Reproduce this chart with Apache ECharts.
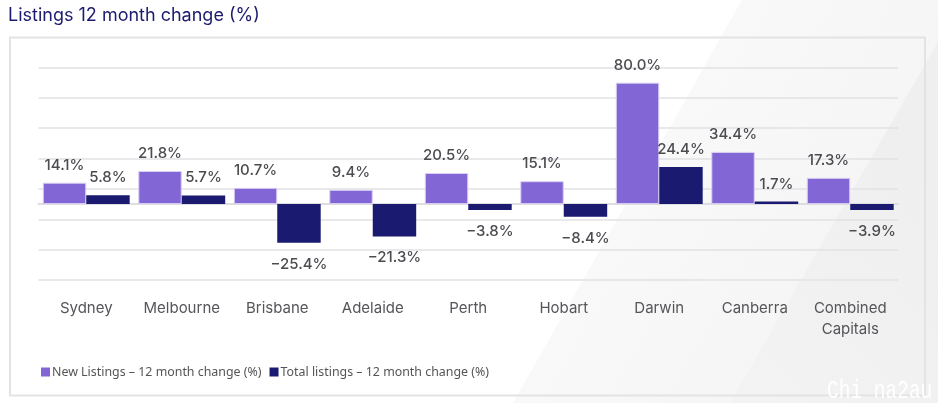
<!DOCTYPE html>
<html>
<head>
<meta charset="utf-8">
<style>
  html, body { margin: 0; padding: 0; background: #fff; }
  #chart { width: 938px; height: 403px; }
</style>
<script src="https://cdn.jsdelivr.net/npm/echarts@6/dist/echarts.min.js"></script>
</head>
<body>
<div id="chart"></div>
<script>
const categories = ['Sydney', 'Melbourne', 'Brisbane', 'Adelaide', 'Perth', 'Hobart', 'Darwin', 'Canberra', 'Combined\nCapitals'];
const newListings = [14.1, 21.8, 10.7, 9.4, 20.5, 15.1, 80.0, 34.4, 17.3];
const totalListings = [5.8, 5.7, -25.4, -21.3, -3.8, -8.4, 24.4, 1.7, -3.9];
const seriesNames = ['New Listings – 12 month change (%)', 'Total listings – 12 month change (%)'];

const labelFont = 'Inter, sans-serif';

function barLabel() {
    return {
        show: true,
        position: 'outside',
        distance: 10,
        fontFamily: labelFont,
        fontSize: 15,
        fontWeight: 500,
        color: '#4b4b50',
        formatter: function (p) {
            return p.value.toFixed(1).replace('-', '−') + '%';
        }
    };
}

// negative labels sit a little further from the bar
function barData(values) {
    return values.map(function (v) {
        return v < 0 ? { value: v, label: { distance: 14 } } : v;
    });
}

let myChart = echarts.init(document.getElementById('chart'));
let option = {
    animation: false,
    backgroundColor: '#fff',
    title: {
        text: 'Listings 12 month change (%)',
        left: 3,
        top: 2,
        textStyle: { fontFamily: labelFont, fontSize: 18, fontWeight: 400, color: '#1d1b6f' }
    },
    // shaded diagonal panels behind the plot, and the frame
    graphic: [
        {
            type: 'polygon', silent: true, z: -10,
            shape: { points: [[742, 0], [938, 0], [938, 403], [513, 403]] },
            style: { fill: { type: 'linear', x: 0, y: 0, x2: 1, y2: 0.6, colorStops: [{ offset: 0, color: '#fcfcfc' }, { offset: 1, color: '#f4f4f4' }] } }
        },
        {
            type: 'polygon', silent: true, z: -9,
            shape: { points: [[938, 42], [938, 403], [730, 403]] },
            style: { fill: { type: 'linear', x: 0, y: 1, x2: 1, y2: 0.4, colorStops: [{ offset: 0, color: '#f3f3f3' }, { offset: 1, color: '#efefef' }] } }
        },
        {
            type: 'rect', silent: true, z: -8,
            shape: { x: 10, y: 37.5, width: 915, height: 358 },
            style: { fill: 'transparent', stroke: '#e3e3e6', lineWidth: 2 }
        },
        {
            type: 'text', silent: true, x: 827, y: 378, scaleY: 1.35,
            style: { text: 'Chi na2au', fontFamily: 'Liberation Mono', fontSize: 19.5, fill: '#ffffff' }
        }
    ],
    legend: {
        left: 36,
        top: 361,
        itemWidth: 9,
        itemHeight: 9,
        itemGap: 8,
        icon: 'rect',
        itemStyle: { borderWidth: 0 },
        textStyle: { fontFamily: '"Noto Sans", sans-serif', fontSize: 12.4, color: '#555', padding: [0, 0, 0, -3] }
    },
    grid: { left: 38.5, right: 40, top: 67.5, bottom: 123, containLabel: false },
    xAxis: [
        {
            type: 'category',
            data: categories,
            axisLine: { show: false, onZero: false },
            axisTick: { show: false },
            position: 'bottom',
            axisLabel: { interval: 0, fontFamily: labelFont, fontSize: 15, color: '#55555a', margin: 18, lineHeight: 21 }
        },
        {
            type: 'category',
            data: categories,
            axisLine: { show: true, onZero: true, lineStyle: { color: '#dddde2', width: 2 } },
            axisTick: { show: false },
            axisLabel: { show: false }
        }
    ],
    yAxis: {
        type: 'value',
        min: -50,
        max: 90,
        interval: 20,
        axisLine: { show: false },
        axisTick: { show: false },
        axisLabel: { show: false },
        splitLine: { lineStyle: { color: '#e2e2e4', width: 1.5 } }
    },
    series: [
        {
            name: seriesNames[0],
            type: 'bar',
            data: barData(newListings),
            barWidth: '45.5%',
            barGap: 0,
            itemStyle: { color: '#8366d5', borderColor: '#d9d0f3', borderWidth: 1 },
            label: barLabel()
        },
        {
            name: seriesNames[1],
            type: 'bar',
            data: barData(totalListings),
            barWidth: '45.5%',
            itemStyle: { color: '#1a1a70' },
            label: barLabel()
        }
    ]
};
option && myChart.setOption(option);
</script>
</body>
</html>
